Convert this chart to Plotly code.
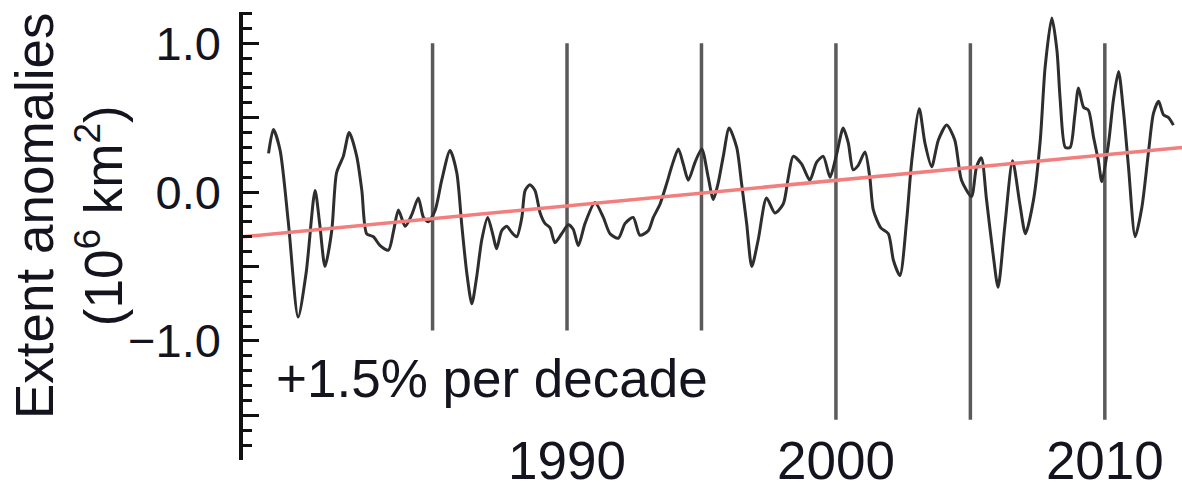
import plotly.graph_objects as go

# ---- data ----
years = [1978.9, 1979.08, 1979.33, 1979.64, 1980.0, 1980.3, 1980.63, 1980.8, 1981.0, 1981.25,
         1981.43, 1981.68, 1981.9, 1982.18, 1982.37, 1982.55, 1982.8, 1983.05, 1983.36, 1983.55,
         1983.73, 1983.98, 1984.23, 1984.47, 1984.66, 1984.84, 1985.1, 1985.34, 1985.65, 1985.9,
         1986.08, 1986.27, 1986.46, 1986.64, 1986.83, 1987.05, 1987.26, 1987.38, 1987.57, 1987.76,
         1987.94, 1988.13, 1988.32, 1988.44, 1988.62, 1988.81, 1989.0, 1989.18, 1989.37, 1989.55,
         1989.8, 1990.05, 1990.23, 1990.42, 1990.67, 1991.04, 1991.35, 1991.6, 1991.91, 1992.16,
         1992.46, 1992.71, 1993.02, 1993.21, 1993.46, 1993.71, 1993.89, 1994.14, 1994.32, 1994.51,
         1994.76, 1995.01, 1995.25, 1995.44, 1995.62, 1995.81, 1996.03, 1996.31, 1996.49, 1996.68,
         1996.87, 1997.11, 1997.42, 1997.73, 1998.04, 1998.23, 1998.41, 1998.72, 1999.03, 1999.28,
         1999.53, 1999.78, 2000.02, 2000.27, 2000.46, 2000.64, 2000.83, 2001.08, 2001.26, 2001.39,
         2001.67, 2001.95, 2002.14, 2002.38, 2002.63, 2002.82, 2003.1, 2003.31, 2003.56, 2003.81,
         2004.12, 2004.42, 2004.67, 2005.04, 2005.23, 2005.41, 2005.6, 2005.84, 2006.03, 2006.28,
         2006.57, 2006.84, 2007.05, 2007.35, 2007.6, 2007.78, 2008.03, 2008.22, 2008.34, 2008.53,
         2008.71, 2008.88, 2009.02, 2009.21, 2009.39, 2009.58, 2009.76, 2009.89, 2010.14, 2010.32,
         2010.51, 2010.69, 2010.88, 2011.13, 2011.38, 2011.63, 2011.81, 2012.0, 2012.18, 2012.37,
         2012.55]
anomalies = [0.26, 0.42, 0.28, -0.21, -0.84, -0.54, 0.01, -0.21, -0.50, -0.26,
             0.13, 0.24, 0.40, 0.24, 0.01, -0.28, -0.30, -0.36, -0.39, -0.26,
             -0.12, -0.23, -0.15, -0.04, -0.17, -0.20, -0.12, 0.08, 0.28, 0.13,
             -0.21, -0.54, -0.75, -0.57, -0.32, -0.17, -0.30, -0.38, -0.26, -0.23,
             -0.27, -0.30, -0.17, 0.01, 0.05, 0.01, -0.14, -0.21, -0.24, -0.34,
             -0.28, -0.22, -0.25, -0.36, -0.21, -0.07, -0.17, -0.28, -0.31, -0.21,
             -0.17, -0.29, -0.26, -0.17, -0.08, 0.06, 0.17, 0.29, 0.19, 0.08,
             0.20, 0.29, 0.10, -0.05, 0.06, 0.24, 0.43, 0.30, 0.06, -0.21,
             -0.50, -0.32, -0.04, -0.14, -0.08, 0.10, 0.24, 0.19, 0.08, 0.20,
             0.24, 0.10, 0.25, 0.43, 0.33, 0.15, 0.18, 0.27, 0.10, -0.12,
             -0.24, -0.28, -0.46, -0.56, -0.19, 0.21, 0.56, 0.33, 0.17, 0.35,
             0.45, 0.35, 0.08, -0.03, 0.17, 0.23, -0.05, -0.41, -0.64, -0.23,
             0.21, -0.08, -0.28, -0.05, 0.35, 0.84, 1.17, 0.95, 0.62, 0.30,
             0.30, 0.51, 0.70, 0.57, 0.55, 0.37, 0.21, 0.07, 0.33, 0.62,
             0.81, 0.55, 0.17, -0.30, -0.10, 0.28, 0.53, 0.61, 0.52, 0.50,
             0.45]

trend_years = [1977.95, 2012.87]
trend_values = [-0.30, 0.30]

vline_years = [1985, 1990, 1995, 2000, 2005, 2010]
vline_tops = [1.0, 1.0, 1.0, 1.0, 1.0, 1.0]
vline_bottoms = [-0.93, -0.93, -0.93, -1.53, -1.53, -1.53]

x_tick_years = [1990, 2000, 2010]
y_label_values = [-1.0, 0.0, 1.0]
y_label_texts = ["\u22121.0", "0.0", "1.0"]
y_half_ticks = [-1.5, -0.5, 0.5]

Y_RANGE = [-1.80, 1.21]
X_RANGE = [1977.95, 2012.87]

# ---- figure ----
vx, vy = [], []
for yr, top, bot in zip(vline_years, vline_tops, vline_bottoms):
    vx += [yr, yr, None]
    vy += [top, bot, None]

fig = go.Figure()
fig.add_trace(go.Scatter(x=vx, y=vy, mode="lines",
                         line=dict(color="#5a5a5a", width=3.5), hoverinfo="skip"))
fig.add_trace(go.Scatter(x=years, y=anomalies, mode="lines",
                         line=dict(color="#2e2e2e", width=3, shape="spline", smoothing=0.7)))
fig.add_trace(go.Scatter(x=trend_years, y=trend_values, mode="lines", yaxis="y2",
                         line=dict(color="#f27e7e", width=3.5)))

font_color = "#14141e"
fig.update_layout(
    width=1182, height=490,
    margin=dict(l=243, r=0, t=12, b=30),
    paper_bgcolor="white", plot_bgcolor="white",
    showlegend=False,
    font=dict(family="Liberation Sans, Arial, sans-serif", color=font_color, size=51),
    xaxis=dict(range=X_RANGE, tickvals=x_tick_years,
               showline=False, showgrid=False, zeroline=False, ticks="",
               anchor="free", position=0.079,
               tickfont=dict(size=53, color=font_color)),
    yaxis=dict(range=Y_RANGE, tickvals=y_label_values, ticktext=y_label_texts,
               showline=True, linecolor="#111111", linewidth=3.5,
               ticks="inside", ticklen=16, tickwidth=3, tickcolor="#111111",
               minor=dict(dtick=0.1, ticks="inside", ticklen=9, tickwidth=2.5,
                          tickcolor="#111111"),
               showgrid=False, zeroline=False, ticklabelstandoff=9,
               tickfont=dict(size=47, color=font_color)),
    yaxis2=dict(range=Y_RANGE, overlaying="y", side="left", anchor="x",
                tickvals=y_half_ticks, showticklabels=False,
                ticks="inside", ticklen=16, tickwidth=3, tickcolor="#111111",
                showline=False, showgrid=False, zeroline=False),
    annotations=[
        dict(text="Extent anomalies<br>(10<sup>6</sup> km<sup>2</sup>)",
             textangle=-90, xref="paper", yref="paper", x=-0.1853, y=0.5446,
             xanchor="center", yanchor="middle", showarrow=False,
             font=dict(size=53, color=font_color)),
        dict(text="+1.5% per decade", xref="x", yref="y", x=1979.1, y=-1.25,
             xanchor="left", yanchor="middle", showarrow=False,
             font=dict(size=53, color=font_color)),
    ],
)

fig.write_html("out.html", config={"displayModeBar": False},
               post_script="document.body.style.margin='0';")
